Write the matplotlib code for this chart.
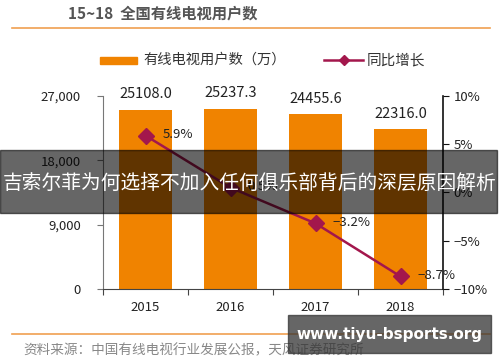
import matplotlib
matplotlib.use("Agg")
import matplotlib.pyplot as plt
from matplotlib.patches import Rectangle
from matplotlib.lines import Line2D

plt.rcParams["font.family"] = ["Noto Sans CJK SC", "DejaVu Sans"]

years = ["2015", "2016", "2017", "2018"]
users = [25108.0, 25237.3, 24455.6, 22316.0]
growth = [5.9, 0.5, -3.2, -8.7]
growth_labels = ["5.9%", "0.5%", "\u22123.2%", "\u22128.7%"]
left_ticks = [0, 9000, 18000, 27000]
left_labels = ["0", "9,000", "18,000", "27,000"]
right_ticks = [-10, -5, 0, 5, 10]
right_labels = ["\u221210%", "\u22125%", "0%", "5%", "10%"]

BAR = "#F08300"
LINE = "#A3174C"

fig = plt.figure(figsize=(5.0, 3.62), dpi=100)
ax = fig.add_axes([0.206, 0.2017, 0.68, 0.5331])
x = list(range(len(years)))
ax.bar(x, users, width=0.62, color=BAR, zorder=2)
for xi, v in zip(x, users):
    ax.text(xi, v + 1200, f"{v:.1f}", ha="center", va="bottom", fontsize=10.5, color="#222222")
ax.set_xlim(-0.5, 3.5)
ax.set_ylim(0, 27000)
ax.set_yticks(left_ticks)
ax.set_yticklabels(left_labels, fontsize=9.5, color="#222222")
ax.set_xticks([i + 0.5 for i in range(-1, 4)])
ax.set_xticklabels([])
ax.set_xticks(x, minor=True)
ax.set_xticklabels(years, minor=True, fontsize=9.5, color="#222222")
ax.tick_params(axis="x", which="minor", length=0, pad=9)
ax.tick_params(axis="x", which="major", length=4, color="#444444")
ax.tick_params(axis="y", length=4, color="#777777", pad=12)
ax.spines["top"].set_visible(False)
ax.spines["right"].set_visible(False)
ax.spines["left"].set_color("#777777")
ax.spines["bottom"].set_color("#444444")

ax2 = ax.twinx()
ax2.plot(x, growth, color=LINE, lw=1.8, marker="D", ms=8, zorder=3)
for xi, g, lab in zip(x, growth, growth_labels):
    ax2.text(xi + 0.2, g + 0.1, lab, ha="left", va="center", fontsize=9.5, color="#222222")
ax2.set_ylim(-10, 10)
ax2.set_yticks(right_ticks)
ax2.set_yticklabels(right_labels, fontsize=9.5, color="#222222")
ax2.tick_params(axis="y", length=4, color="#111111")
ax2.spines["top"].set_visible(False)
ax2.spines["left"].set_visible(False)
ax2.spines["bottom"].set_visible(False)
ax2.spines["right"].set_color("#111111")
ax2.spines["right"].set_linewidth(1.2)

# title and rules
fig.text(68 / 500, 1 - 14 / 362, "15~18  全国有线电视用户数", fontsize=11, fontweight="bold",
         color="#555555", ha="left", va="center")
fig.add_artist(Line2D([12 / 500, 490 / 500], [1 - 28 / 362] * 2, color="#F0A050", lw=1.2))
fig.add_artist(Line2D([12 / 500, 490 / 500], [1 - 334 / 362] * 2, color="#F0A050", lw=1.2))
fig.text(23 / 500, 1 - 350 / 362, "资料来源：中国有线电视行业发展公报，天风证券研究所", fontsize=9.8,
         color="#888888", ha="left", va="center")

# legend, drawn by hand to match placement
ly = 1 - 60 / 362
fig.add_artist(Rectangle((100 / 500, ly - 3.5 / 362), 37 / 500, 7 / 362, transform=fig.transFigure,
                         color=BAR))
fig.text(143 / 500, ly, "有线电视用户数（万）", fontsize=10.3, color="#333333", ha="left", va="center")
fig.add_artist(Line2D([324 / 500, 363 / 500], [ly, ly], color=LINE, lw=1.8))
fig.add_artist(Line2D([344 / 500], [ly], color=LINE, marker="D", ms=5))
fig.text(367 / 500, ly, "同比增长", fontsize=10.5, color="#333333", ha="left", va="center")

# overlay banner
fig.add_artist(Rectangle((0, 1 - 213 / 362), 497 / 500, 63 / 362, transform=fig.transFigure,
                         color="black", alpha=0.6, zorder=10))
fig.text(0.5, 1 - 183 / 362, "吉索尔菲为何选择不加入任何俱乐部背后的深层原因解析", fontsize=14.2,
         color="white", ha="center", va="center", zorder=11)
fig.add_artist(Rectangle((288 / 500, 1 - 353 / 362), 203 / 500, 38 / 362, transform=fig.transFigure,
                         color="#333333", alpha=0.75, zorder=10))
fig.text(389 / 500, 1 - 334 / 362, "www.tiyu-bsports.org", fontsize=11, fontweight="bold",
         family="DejaVu Sans", color="white", ha="center", va="center", zorder=11)

fig.savefig("out.png", dpi=100)
